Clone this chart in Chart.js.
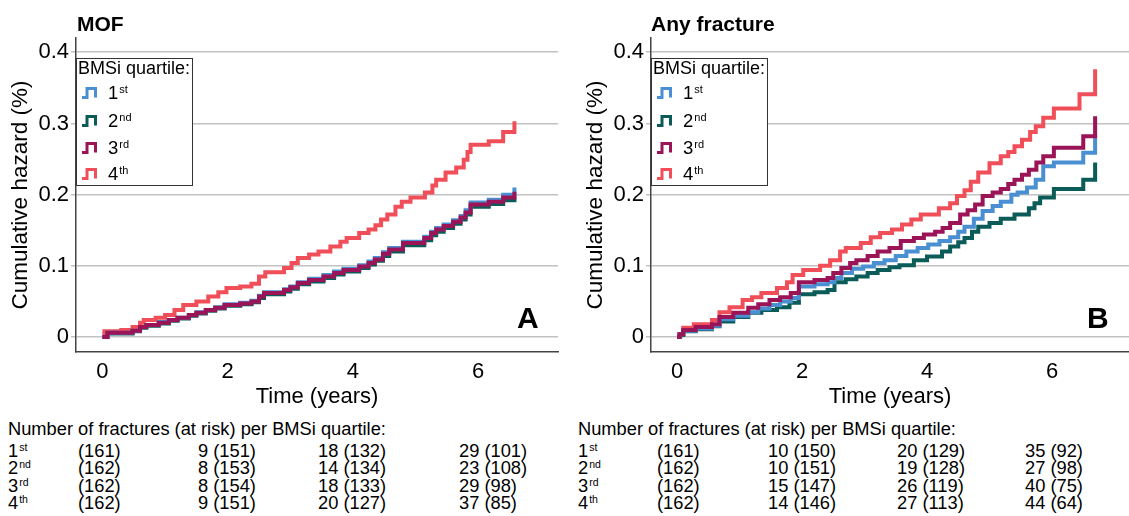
<!DOCTYPE html>
<html>
<head>
<meta charset="utf-8">
<title>Cumulative hazard by BMSi quartile</title>
<script src="https://cdn.jsdelivr.net/npm/chart.js@4.4.1/dist/chart.umd.min.js"></script>
<style>
  body { margin: 0; background: #fff; font-family: "Liberation Sans", Arial, sans-serif; color: #000; }
  #page { position: relative; width: 1129px; height: 516px; overflow: hidden; }
  canvas { position: absolute; top: 0; }
  .title { position: absolute; top: 13px; font-weight: bold; font-size: 21px; line-height: 21px; }
  .tag { position: absolute; top: 303px; font-weight: bold; font-size: 30px; line-height: 30px; }
  .legend { position: absolute; top: 58px; width: 117px; height: 128px; border: 1px solid #333; background: #fff; box-sizing: border-box; }
  .legend .head { position: absolute; left: 1px; top: -1px; font-size: 18px; line-height: 20px; white-space: nowrap; }
  .legend .item { position: absolute; left: 5px; font-size: 18.5px; line-height: 20px; display: flex; align-items: center; }
  .legend svg { margin-right: 10px; }
  sup { font-size: 11px; line-height: 0; position: relative; top: -0.55em; vertical-align: baseline; margin-left: 1px; }
  .cell sup { font-size: 10.5px; top: -0.6em; }
  .cell { position: absolute; font-size: 18.3px; line-height: 18px; white-space: nowrap; }
</style>
</head>
<body>
<div id="page">
  <canvas id="mofChart" width="565" height="410" style="left:0"></canvas>
  <canvas id="anyChart" width="554" height="410" style="left:575px"></canvas>
  <div class="title" style="left:77px">MOF</div>
  <div class="title" style="left:651px">Any fracture</div>
  <div class="tag" style="left:517px">A</div>
  <div class="tag" style="left:1087px">B</div>
</div>
<script>
// cumulative hazard step points [time (years), hazard]
const mofQ1 = [[0,0],[0.08,0.006],[0.48,0.009],[0.6,0.014],[0.7,0.017],[0.9,0.021],[1.06,0.024],[1.2,0.027],[1.38,0.031],[1.5,0.035],[1.65,0.038],[1.8,0.042],[1.95,0.046],[2.2,0.048],[2.38,0.051],[2.5,0.058],[2.58,0.063],[2.9,0.067],[3.0,0.071],[3.12,0.077],[3.3,0.082],[3.53,0.087],[3.7,0.092],[3.85,0.096],[4.1,0.101],[4.25,0.106],[4.35,0.111],[4.48,0.119],[4.58,0.125],[4.8,0.134],[5.14,0.141],[5.25,0.148],[5.33,0.153],[5.45,0.158],[5.6,0.164],[5.72,0.17],[5.8,0.178],[5.88,0.189],[6.17,0.193],[6.4,0.2],[6.58,0.21]];
const mofQ2 = [[0,0],[0.08,0.005],[0.48,0.008],[0.6,0.013],[0.7,0.016],[0.9,0.019],[1.06,0.023],[1.2,0.026],[1.38,0.03],[1.5,0.033],[1.65,0.037],[1.8,0.04],[1.95,0.044],[2.2,0.046],[2.38,0.049],[2.5,0.055],[2.58,0.06],[2.9,0.064],[3.0,0.068],[3.12,0.074],[3.3,0.078],[3.53,0.083],[3.7,0.088],[3.85,0.092],[4.1,0.097],[4.25,0.102],[4.35,0.107],[4.48,0.114],[4.58,0.12],[4.8,0.129],[5.14,0.136],[5.25,0.143],[5.33,0.148],[5.45,0.153],[5.6,0.159],[5.72,0.165],[5.8,0.172],[5.88,0.183],[6.17,0.187],[6.4,0.192],[6.58,0.197]];
const mofQ3 = [[0,0],[0.08,0.006],[0.48,0.009],[0.6,0.014],[0.7,0.017],[0.9,0.02],[1.06,0.024],[1.2,0.027],[1.38,0.031],[1.5,0.034],[1.65,0.038],[1.8,0.041],[1.95,0.045],[2.2,0.047],[2.38,0.05],[2.5,0.057],[2.58,0.062],[2.9,0.066],[3.0,0.07],[3.12,0.076],[3.3,0.08],[3.53,0.085],[3.7,0.09],[3.85,0.094],[4.1,0.099],[4.25,0.104],[4.35,0.109],[4.48,0.117],[4.58,0.123],[4.8,0.132],[5.14,0.139],[5.25,0.146],[5.33,0.151],[5.45,0.156],[5.6,0.162],[5.72,0.168],[5.8,0.175],[5.88,0.186],[6.17,0.19],[6.4,0.196],[6.58,0.204]];
const mofQ4 = [[0,0],[0.03,0.008],[0.3,0.01],[0.48,0.014],[0.6,0.02],[0.66,0.024],[0.85,0.027],[1.0,0.031],[1.15,0.038],[1.29,0.045],[1.5,0.05],[1.69,0.057],[1.85,0.063],[1.98,0.069],[2.2,0.071],[2.38,0.075],[2.5,0.085],[2.6,0.091],[2.9,0.097],[3.02,0.104],[3.12,0.111],[3.3,0.116],[3.45,0.12],[3.64,0.127],[3.8,0.134],[3.9,0.139],[4.1,0.146],[4.25,0.151],[4.36,0.157],[4.45,0.165],[4.55,0.172],[4.68,0.183],[4.78,0.19],[4.92,0.196],[5.15,0.203],[5.27,0.213],[5.33,0.221],[5.48,0.231],[5.65,0.238],[5.77,0.249],[5.83,0.26],[5.88,0.27],[6.17,0.275],[6.4,0.288],[6.58,0.303]];

const anyQ1 = [[0,0],[0.04,0.004],[0.1,0.009],[0.3,0.012],[0.56,0.016],[0.68,0.025],[0.9,0.03],[1.14,0.035],[1.3,0.04],[1.48,0.045],[1.65,0.05],[1.82,0.055],[1.95,0.071],[2.2,0.074],[2.41,0.077],[2.52,0.083],[2.63,0.09],[2.8,0.096],[2.98,0.099],[3.15,0.104],[3.32,0.108],[3.5,0.114],[3.67,0.12],[3.85,0.125],[4.02,0.13],[4.2,0.135],[4.37,0.14],[4.5,0.148],[4.6,0.155],[4.75,0.166],[4.89,0.177],[5.05,0.184],[5.18,0.19],[5.35,0.2],[5.45,0.203],[5.6,0.21],[5.74,0.221],[5.86,0.24],[6.03,0.245],[6.5,0.259],[6.69,0.285]];
const anyQ2 = [[0,0],[0.05,0.003],[0.1,0.008],[0.3,0.011],[0.56,0.015],[0.68,0.022],[0.9,0.028],[1.14,0.034],[1.35,0.038],[1.6,0.042],[1.8,0.048],[1.95,0.06],[2.2,0.063],[2.41,0.066],[2.52,0.077],[2.7,0.081],[2.87,0.085],[3.05,0.09],[3.21,0.094],[3.4,0.098],[3.56,0.101],[3.79,0.108],[4.0,0.113],[4.24,0.12],[4.37,0.127],[4.5,0.133],[4.6,0.139],[4.72,0.148],[4.82,0.155],[5.0,0.16],[5.18,0.166],[5.4,0.172],[5.63,0.181],[5.72,0.188],[5.81,0.196],[6.03,0.208],[6.5,0.221],[6.69,0.245]];
const anyQ3 = [[0,0],[0.04,0.004],[0.1,0.01],[0.3,0.014],[0.56,0.018],[0.68,0.028],[0.9,0.034],[1.14,0.041],[1.3,0.046],[1.48,0.052],[1.65,0.056],[1.82,0.062],[1.95,0.077],[2.2,0.08],[2.41,0.083],[2.5,0.09],[2.63,0.097],[2.77,0.104],[2.87,0.108],[3.05,0.114],[3.21,0.12],[3.4,0.125],[3.58,0.135],[3.79,0.139],[3.95,0.144],[4.13,0.148],[4.25,0.153],[4.37,0.16],[4.53,0.172],[4.65,0.178],[4.77,0.186],[4.89,0.198],[5.05,0.203],[5.18,0.208],[5.3,0.215],[5.4,0.221],[5.52,0.228],[5.63,0.235],[5.75,0.245],[5.86,0.254],[6.03,0.266],[6.5,0.282],[6.69,0.31]];
const anyQ4 = [[0,0],[0.04,0.004],[0.1,0.013],[0.27,0.018],[0.56,0.024],[0.68,0.035],[0.84,0.042],[1.05,0.052],[1.2,0.056],[1.35,0.062],[1.6,0.069],[1.76,0.077],[1.85,0.087],[2.02,0.094],[2.29,0.1],[2.45,0.108],[2.61,0.12],[2.7,0.125],[2.94,0.132],[3.1,0.14],[3.25,0.146],[3.44,0.151],[3.6,0.158],[3.75,0.165],[3.9,0.172],[4.19,0.181],[4.37,0.188],[4.48,0.198],[4.6,0.206],[4.7,0.218],[4.82,0.231],[5.0,0.244],[5.18,0.254],[5.3,0.26],[5.4,0.268],[5.52,0.277],[5.65,0.288],[5.74,0.296],[5.86,0.308],[6.03,0.321],[6.44,0.341],[6.69,0.376]];

const quartiles = ["1", "2", "3", "4"];
const suffixes = ["st", "nd", "rd", "th"];
const colors = ["#4a8fd2", "#0b5c58", "#9b1458", "#f04f5a"];
const drawOrder = [1, 2, 0, 3];

const xTicks = [0, 2, 4, 6];
const yTicks = [0, 0.1, 0.2, 0.3, 0.4];

// number of fractures (at risk) at 0, 2, 4, 6 years
const mofFractures = [[null, 9, 18, 29], [null, 8, 14, 23], [null, 8, 18, 29], [null, 9, 20, 37]];
const mofAtRisk = [[161, 151, 132, 101], [162, 153, 134, 108], [162, 154, 133, 98], [162, 151, 127, 85]];
const anyFractures = [[null, 10, 20, 35], [null, 10, 19, 27], [null, 15, 26, 40], [null, 14, 27, 44]];
const anyAtRisk = [[161, 150, 129, 92], [162, 151, 128, 98], [162, 147, 119, 75], [162, 146, 113, 64]];

function makeChart(id, series, xMin, xMax, padRight) {
  new Chart(document.getElementById(id).getContext("2d"), {
    type: "line",
    data: {
      datasets: series.map((s, i) => ({
        label: quartiles[i] + suffixes[i],
        data: s,
        borderColor: colors[i],
        order: drawOrder[i],
      })),
    },
    options: {
      responsive: false,
      animation: false,
      layout: { padding: { top: 38, right: padRight, left: 0, bottom: 0 } },
      plugins: { legend: { display: false }, tooltip: { enabled: false } },
      elements: {
        point: { radius: 0 },
        line: { borderWidth: 4, stepped: true, borderJoinStyle: "miter", fill: false },
      },
      scales: {
        x: {
          type: "linear",
          min: xMin,
          max: xMax,
          afterBuildTicks: (axis) => { axis.ticks = xTicks.map((v) => ({ value: v })); },
          afterFit: (axis) => { axis.height = 58; },
          grid: { display: false, drawTicks: false },
          border: { color: "#444", width: 1.5 },
          ticks: { color: "#000", font: { size: 22, family: "Liberation Sans" }, padding: 7, maxRotation: 0 },
          title: { display: true, text: "Time (years)", color: "#000", font: { size: 22, family: "Liberation Sans" }, padding: 0 },
        },
        y: {
          min: -0.021,
          max: 0.42,
          afterBuildTicks: (axis) => { axis.ticks = yTicks.map((v) => ({ value: v })); },
          afterFit: (axis) => { axis.width = 76; },
          grid: { color: "#c2c2c2", lineWidth: 1.5, tickLength: 5 },
          border: { color: "#444", width: 1.5 },
          ticks: {
            color: "#000",
            font: { size: 22, family: "Liberation Sans" },
            padding: 2,
            callback: (v) => (v === 0 ? "0" : v.toFixed(1)),
          },
          title: { display: true, text: "Cumulative hazard (%)", color: "#000", font: { size: 22.5, family: "Liberation Sans" }, padding: { top: 7, bottom: 0 } },
        },
      },
    },
  });
}

makeChart("mofChart", [mofQ1, mofQ2, mofQ3, mofQ4], -0.423, 7.276, 7);
makeChart("anyChart", [anyQ1, anyQ2, anyQ3, anyQ4], -0.416, 7.232, 0);

const page = document.getElementById("page");

function addLegend(left) {
  const box = document.createElement("div");
  box.className = "legend";
  box.style.left = left + "px";
  let html = '<div class="head">BMSi quartile:</div>';
  const tops = [24, 52, 79, 105];
  quartiles.forEach((q, i) => {
    html += '<div class="item" style="top:' + tops[i] + 'px">' +
      '<svg width="16" height="12"><path d="M0 10.5 H5 V1.5 H13.5 V10.5" fill="none" stroke="' + colors[i] + '" stroke-width="3"/></svg>' +
      "<span>" + q + "<sup>" + suffixes[i] + "</sup></span></div>";
  });
  box.innerHTML = html;
  page.appendChild(box);
}
addLegend(76);
addLegend(651);

function addCell(x, y, html) {
  const el = document.createElement("div");
  el.className = "cell";
  el.style.left = x + "px";
  el.style.top = y + "px";
  el.innerHTML = html;
  page.appendChild(el);
}

function addTable(cols, fractures, atRisk) {
  addCell(cols[0], 420, "Number of fractures (at risk) per BMSi quartile:");
  const rowTops = [442, 459, 477, 494];
  quartiles.forEach((q, i) => {
    addCell(cols[0], rowTops[i], q + "<sup>" + suffixes[i] + "</sup>");
    atRisk[i].forEach((n, j) => {
      const f = fractures[i][j];
      addCell(cols[j + 1], rowTops[i], (f === null ? "" : f + " ") + "(" + n + ")");
    });
  });
}
addTable([8, 78, 198, 318, 459], mofFractures, mofAtRisk);
addTable([578, 657, 768, 897, 1025], anyFractures, anyAtRisk);
</script>
</body>
</html>
